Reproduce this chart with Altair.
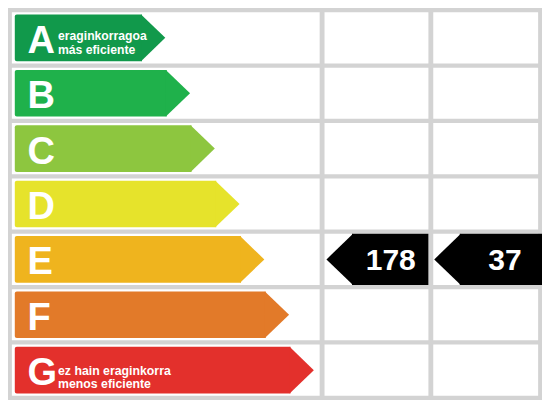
import altair as alt
import pandas as pd

# ---- data ----
classes = ["A", "B", "C", "D", "E", "F", "G"]
class_colors = ["#11994b", "#1fb14b", "#8dc63f", "#e6e32b", "#efb41e", "#e27a29", "#e3302c"]
rating = "E"
values = [178, 37]
best_note = ["eraginkorragoa", "más eficiente"]
worst_note = ["ez hain eraginkorra", "menos eficiente"]

# ---- layout (reference pixel units, mapped through the x scale) ----
W, H = 534, 392
col_edges = [(4, 321), (326, 433), (438, 546)]
ARROW_X0, BODY0, STEP = 7, 138, 25.5
badge_body = [354.3, 465.3]
badge_right = [433, 550]
badge_text_x = [420, 529]

xs = alt.Scale(domain=[0, 550], nice=False, zero=False)
y_enc = alt.Y("cls:N", scale=alt.Scale(domain=classes, paddingInner=0.078, paddingOuter=0.078), axis=None)
c_enc = alt.Color("cls:N", scale=alt.Scale(domain=classes, range=class_colors), legend=None)

cells = pd.DataFrame([{"cls": c, "x0": a, "x1": b} for c in classes for (a, b) in col_edges])
arrows = pd.DataFrame({"cls": classes, "rank": list(range(len(classes)))})
badges = pd.DataFrame({"cls": [rating] * len(values), "value": values,
                       "b0": badge_body, "b1": badge_right, "tx": badge_text_x})
notes_best = pd.DataFrame({"cls": [classes[0]], "note": ["\n".join(best_note)]})
notes_worst = pd.DataFrame({"cls": [classes[-1]], "note": ["\n".join(worst_note)]})

cell_layer = alt.Chart(cells).mark_rect(color="white").encode(
    x=alt.X("x0:Q", scale=xs, axis=None), x2="x1:Q", y=y_enc)

arrow_base = alt.Chart(arrows).transform_calculate(
    x0=str(ARROW_X0), body_end=f"{BODY0} + {STEP} * datum.rank")

arrow_body = arrow_base.mark_bar(height={"band": 0.912}, cornerRadiusTopLeft=2,
                                 cornerRadiusBottomLeft=2).encode(
    x=alt.X("x0:Q", scale=xs, axis=None), x2="body_end:Q", y=y_enc, color=c_enc)

arrow_tip = arrow_base.mark_point(shape="M-0.04,-1L1,0L-0.04,1Z", size=2172, filled=True,
                                  opacity=1, strokeWidth=0).encode(
    x=alt.X("body_end:Q", scale=xs, axis=None), y=y_enc, color=c_enc)

letters = alt.Chart(arrows).mark_text(align="left", baseline="alphabetic", dy=15,
                                      fontSize=38, fontWeight="bold", color="white",
                                      font="Liberation Sans").encode(
    x=alt.X(datum=20, scale=xs, axis=None), y=y_enc, text="cls:N")

note_a = alt.Chart(notes_best).mark_text(align="left", baseline="alphabetic", dy=1.9,
                                         lineBreak="\n", lineHeight=14.2, fontSize=12.2,
                                         fontWeight="bold", color="white",
                                         font="Liberation Sans").encode(
    x=alt.X(datum=51.5, scale=xs, axis=None), y=y_enc, text="note:N")

note_g = alt.Chart(notes_worst).mark_text(align="left", baseline="alphabetic", dy=4.4,
                                          lineBreak="\n", lineHeight=13.6, fontSize=12.3,
                                          fontWeight="bold", color="white",
                                          font="Liberation Sans").encode(
    x=alt.X(datum=51.5, scale=xs, axis=None), y=y_enc, text="note:N")

badge_body_layer = alt.Chart(badges).mark_bar(color="black").encode(
    x=alt.X("b0:Q", scale=xs, axis=None), x2="b1:Q", y=y_enc)

badge_tip = alt.Chart(badges).mark_point(shape="M0.04,-1L-1,0L0.04,1Z", size=2607, filled=True,
                                         opacity=1, strokeWidth=0, color="black").encode(
    x=alt.X("b0:Q", scale=xs, axis=None), y=y_enc)

badge_text = alt.Chart(badges).mark_text(align="right", baseline="alphabetic", dy=11,
                                         fontSize=30, fontWeight="bold", color="white",
                                         font="Liberation Sans").encode(
    x=alt.X("tx:Q", scale=xs, axis=None), y=y_enc, text="value:Q")

chart = alt.layer(cell_layer, arrow_body, arrow_tip, letters, note_a, note_g,
                  badge_body_layer, badge_tip, badge_text).properties(
    width=W, height=H, padding=0, background="#d3d3d3"
).configure_view(stroke=None)

chart.save("out.html", embed_options={"renderer": "svg", "actions": False})
